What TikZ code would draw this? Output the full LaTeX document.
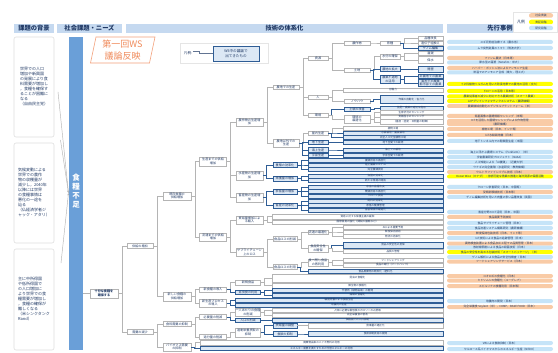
\documentclass[tikz,border=0pt]{standalone}
\usepackage{fontspec}
\setmainfont{Noto Sans CJK JP}
\usetikzlibrary{arrows.meta}
\definecolor{navy}{HTML}{1F3864}
\definecolor{hdrbg}{HTML}{C5D9F0}
\definecolor{barbl}{HTML}{6A9FD8}
\definecolor{wsfill}{HTML}{DCE8F5}
\definecolor{wsline}{HTML}{2F5D95}
\definecolor{gline}{HTML}{B4B4B4}
\definecolor{pblue}{HTML}{C6E4F8}
\definecolor{porange}{HTML}{F9CBA6}
\definecolor{pyellow}{HTML}{FFFF00}
\definecolor{ttlor}{HTML}{F08A5A}
\tikzset{
 tf/.style={font=\fontsize{3.1}{3.6}\selectfont},
 rf/.style={font=\fontsize{2.6}{3}\selectfont},
 wb/.style={tf, draw=gline, fill=white, text=navy, line width=0.45pt, inner sep=0.2pt, align=center},
 bb/.style={wb, draw=wsline, fill=wsfill, line width=0.6pt},
 wr/.style={wb, rf},
 br/.style={bb, rf},
 gl/.style={draw=gline, line width=0.45pt},
 bl/.style={draw=wsline, line width=0.6pt},
 hdr/.style={fill=hdrbg, text=navy, font=\fontsize{6.3}{7}\selectfont\bfseries, minimum height=9, inner sep=0},
 lbox/.style={draw=gray!25, line width=0.6pt, rounded corners=2pt, fill=white, text=navy, font=\fontsize{4}{5}\selectfont, align=left, inner sep=1pt, minimum width=40},
 pill/.style={font=\fontsize{2.8}{3.2}\selectfont, rounded corners=2pt, minimum width=106, minimum height=4, inner sep=0.2pt, text=navy, align=center},
}
\newcommand\nd[6]{\node[#2, minimum width=#3, minimum height=#5] (#1) at (#4) {#6};}
\newcommand\rw[7]{\node[#2, minimum width={#4-#3}, minimum height=#6] (#1) at ({(#3+#4)/2},#5) {#7};}
\newcommand\cg[2]{\draw[gl] (#1.east) -- ++(3.5,0) |- (#2.west);}
\newcommand\cb[2]{\draw[bl] (#1.east) -- ++(3.5,0) |- (#2.west);}
\newcommand\pl[4]{\node[pill, fill=#3] (#1) at (500,#2) {#4};}
\begin{document}
\begin{tikzpicture}[x=1pt,y=-1pt]
\path[use as bounding box] (0,0) rectangle (558,353);
\fill[white] (0,0) rectangle (558,353);
% headers
\node[hdr, minimum width=40] (hA) at (34,28.5) {課題の背景};
\node[hdr, minimum width=65] (hB) at (89.5,28.5) {社会課題・ニーズ};
\node[hdr, minimum width=317] (hC) at (284.5,28.5) {技術の体系化};
\node[hdr, minimum width=106] (hD) at (500,28.5) {先行事例};
% legend top right
\node[draw=gray!20, fill=white, line width=0.6pt, minimum width=44, minimum height=20] (lgR) at (535,22) {};
\node[text=navy, font=\fontsize{4}{5}\selectfont] (lgRt) at (521,22) {凡例};
\node[pill, fill=porange, minimum width=24, minimum height=4.5] (lgO) at (541,15.5) {社会実装};
\node[pill, fill=pyellow, minimum width=24, minimum height=4.5] (lgY) at (541,22) {実証段階};
\node[pill, fill=pblue, minimum width=24, minimum height=4.5] (lgB) at (541,28) {研究段階};
% left boxes
\node[lbox, minimum height=100] (l1) at (34,87) {世界での人口\\増加や新興国\\の発展により食\\料需要が増加し\\，食糧を確保す\\ることが困難に\\なる\\（自由民主党）};
\node[lbox, minimum height=100] (l2) at (34,193) {気候変動による\\世界での農作\\物の収穫量が\\減少し，2040年\\以降には世界\\の食糧事情は\\悪化の一途を\\辿る\\（仏経済学者ジ\\ャック・アタリ）};
\node[lbox, minimum height=101] (l3) at (34,299.5) {主に中所得国\\や低所得国で\\の人口増加に\\より世界での食\\糧需要が増加し\\，食糧の確保が\\難しくなる\\（米シンクタンク\\Rand）};
% bar
\node[fill=barbl, minimum width=14, minimum height=313, inner sep=0] (bar) at (76,193.5) {};
\node[text=white, font=\bfseries\fontsize{7.5}{9}\selectfont, align=center] (barT) at (76,191) {食\\糧\\不\\足};
\coordinate (s1) at (58,92);
\coordinate (s2) at (60.5,140);
\coordinate (s3) at (61,263);
\coordinate (tip) at (68.5,193);
\draw[gl, -{Stealth[length=2.5pt,width=2pt]}] (s1) -- (tip);
\draw[gl, -{Stealth[length=2.5pt,width=2pt]}] (s2) -- (tip);
\draw[gl, -{Stealth[length=2.5pt,width=2pt]}] (s3) -- (tip);
% title
\node[text=ttlor, font=\fontsize{9}{12.5}\selectfont, align=center] (ttl) at (122.5,50) {第一回WS\\議論反映};
\draw[draw=ttlor!80, line width=0.6pt] (90.5,63) -- (96,37) -- (155,37) -- (149.5,63) -- cycle;
% legend WS
\node[draw=gray!20, fill=white, line width=0.7pt, minimum width=88, minimum height=20] (lg) at (224,53) {};
\node[text=navy, font=\fontsize{3.6}{4}\selectfont, inner sep=0.5pt] (lgt) at (188,53.5) {凡例:};
\node[bb, font=\fontsize{3.6}{4.4}\selectfont, minimum width=46, minimum height=15] (lgb) at (236,53.5) {WS中の議論で\\出てきたもの};
\draw[draw=navy!70, line width=0.5pt] (lgt.north east) -- ++(6,0) |- (lgb.west);
% tree
\nd{rt}{wb,font=\bfseries\fontsize{3.1}{3.6}\selectfont}{28}{104,293.5}{9}{十分な食糧を\\確保する}
\draw[gl] (bar.east |- rt.west) -- (rt.west);
\nd{b1}{wb}{26}{140,246}{5}{供給の増加}
\nd{b2}{wb}{26}{140,332}{5}{需要の減少}
\nd{c1}{wb}{28}{177,196}{8.5}{既存食糧の\\供給増加}
\nd{c2}{wb}{28}{177,296.5}{8.5}{新しい食糧の\\供給増加}
\nd{c3}{wb}{28}{177,324}{5}{食料需要の抑制}
\nd{c4}{wb}{28}{177,347}{8.5}{バイオマス需要\\の抑制}
\nd{d1}{wb}{27}{213,161.5}{8.5}{生産までの供給\\増加}
\nd{d2}{wb}{27}{213,237}{8.5}{流通までの供給\\増加}
\nd{d3}{wb}{27}{213,289.5}{5}{新食糧の導入}
\nd{d4}{wb}{27}{213,303}{8.5}{新生産プロセス\\の導入}
\nd{d5}{wb}{27}{213,317}{5}{必要量の削減}
\nd{d6}{wb}{27}{213,337}{5}{過分量の削減}
\nd{e1}{wb}{27}{249.5,122}{8.5}{農作物の生産増\\加}
\nd{e2}{wb}{27}{249.5,175.5}{8.5}{水産物の生産増\\加}
\nd{e3}{wb}{27}{249.5,197.5}{8.5}{畜産物の生産増\\加}
\nd{e4}{wb}{27}{249.5,220}{8.5}{貿易量増加によ\\る輸入}
\nd{e5}{wb}{27}{249.5,252}{8.5}{サプライチェーン\\上のロス}
\nd{e6}{wb}{25}{248,282.5}{4.5}{新規食品}
\nd{e7}{bb}{25}{248,292.5}{4.5}{昆虫食の利用}
\nd{e8}{wb}{25}{248,312.5}{8}{一人あたりの食糧\\の削減}
\nd{e9}{bb}{25}{248,320.5}{4}{人口の削減}
\nd{e10}{wb}{25}{248,332.5}{8.5}{過剰栄養摂取の\\抑制}
\nd{f1}{wb}{26}{286,87}{4.5}{農地での生産}
\nd{f2}{wb}{26}{286,143}{8.5}{農地以外での\\生産}
\nd{f3}{bb}{24}{285,165}{5}{養殖の効率化}
\nd{f4}{bb}{24}{285,178.5}{5}{漁獲量の増加}
\nd{f5}{bb}{24}{285,191.5}{5}{家畜量の増加}
\nd{f6}{bb}{24}{285,205.5}{5}{畜産の効率化}
\nd{f7}{wb}{24}{285,239}{5}{食品ロスの削減}
\nd{f8}{wb}{24}{285,267}{5}{食品ロスの利用}
\nd{f9}{bb}{24}{285,325.5}{5}{摂取量の調整}
\nd{f10}{bb}{24}{285,334}{5}{食欲の抑制}
\nd{g1}{wb}{20}{318,58}{4.5}{資源}
\nd{g2}{wb}{20}{318,97}{4.5}{人}
\nd{g3}{wb}{20}{318,115}{4.5}{環境}
\nd{g4}{wb}{20}{318,133}{4.5}{屋内生産}
\nd{g5}{bb}{20}{318,142.5}{4.5}{地下生産}
\nd{g6}{bb}{20}{318,150}{4.5}{海上生産}
\nd{g7}{bb}{20}{318,155.5}{4.5}{宇宙生産}
\nd{g9}{wb}{20}{318,232}{4.5}{流通の最適化}
\nd{g10}{wb}{20}{318,248.5}{7.5}{食品安全性\\の確保}
\nd{g11}{wb}{20}{318,262.5}{7.5}{食べ残し食品\\の再利用}
\nd{h1}{wb}{26}{357,43}{4.5}{農作物}
\nd{h2}{wb}{26}{357,70}{4.5}{土地}
\nd{h3}{wb}{26}{357,101}{4.5}{ノウハウ}
\nd{h4}{bb}{26}{357,109.5}{4.5}{土壌の改善}
\nd{h5}{wb}{26}{357,119}{7.5}{環境の\\最適化}
\nd{i1}{wb}{20}{390,43}{4.5}{育種}
\nd{i2}{wb}{20}{390,56.5}{4.5}{水分の確保}
\nd{i3}{bb}{20}{390,69}{4.5}{農地の拡大}
\nd{i4}{bb}{20}{390,79.5}{7.5}{農業不適地\\の活用}
\nd{j1}{wb}{25}{430.5,38}{4.2}{品種改良}
\nd{j2}{wb}{25}{430.5,43}{4.2}{遺伝子組換え}
\nd{j3}{bb}{25}{430.5,48}{4.2}{ゲノム編集}
\nd{j4}{wb}{25}{430.5,53}{4.2}{灌漑}
\nd{j5}{wb}{25}{430.5,60}{7}{保水}
\nd{j6}{bb}{25}{430.5,69.5}{6}{開墾}
\nd{j7}{bb}{25}{430.5,76.5}{4}{非農地での農業}
\nd{j8}{bb}{25}{430.5,83}{7}{海水での農業\\都市部での農業}
% rows
\rw{r1}{wr}{343}{443}{90}{4}{労働力}
\rw{r2}{br}{380}{443}{99.5}{8}{作業の自動化・省力化}
\rw{k1}{br}{380}{443}{108}{4}{施肥・農薬の適切な施用}
\rw{k2}{wr}{380}{443}{112.5}{4}{生育状況のセンシング}
\rw{k3}{wr}{380}{443}{117}{4}{気象因子のセンシング}
\rw{k4}{wr}{380}{443}{122}{5}{（温度・湿度・日照量の制御）}
\rw{s1}{wr}{343}{443}{128.5}{4}{植物工場}
\rw{s2}{br}{343}{443}{133}{4}{水耕栽培・養液栽培}
\rw{s3}{br}{343}{443}{137.5}{4}{完全人工光型植物工場}
\rw{s4}{br}{343}{443}{142.5}{4}{地下空間での栽培}
\rw{s5}{br}{343}{443}{150}{4}{海上での栽培}
\rw{s6}{br}{343}{443}{155.5}{4}{宇宙空間での栽培}
\rw{t1}{br}{308}{443}{160.5}{4}{養殖技術の高度化}
\rw{t2}{br}{308}{443}{165}{4}{陸上養殖システム}
\rw{t3}{br}{308}{443}{169.5}{4}{完全養殖技術}
\rw{t4}{br}{308}{443}{176}{4}{漁獲の効率化}
\rw{t5}{br}{308}{443}{180.5}{4}{新たな漁場の開拓}
\rw{t6}{br}{308}{443}{187}{4}{家畜の品種改良}
\rw{t7}{br}{308}{443}{191.5}{4}{繁殖技術の高度化}
\rw{t8}{br}{308}{443}{196}{4}{クローン技術}
\rw{t9}{br}{308}{443}{201}{4}{飼料の効率化}
\rw{t10}{br}{308}{443}{205.5}{4}{家畜の健康管理}
\rw{t11}{br}{308}{443}{210}{4}{畜舎環境の最適化}
\rw{u1}{wr}{272}{443}{216.5}{4.5}{貿易に対する保護主義の緩和}
\rw{u2}{wr}{272}{443}{222}{4.5}{国際貿易の強化（関税の撤廃など）}
\rw{v1}{wr}{343}{443}{227.5}{4}{AIによる需要予測}
\rw{v2}{wr}{343}{443}{232}{4}{鮮度保持技術}
\rw{v3}{wr}{343}{443}{236.5}{4}{物流の効率化}
\rw{v4}{br}{343}{443}{245}{6}{食品の安全性の担保}
\rw{v5}{wr}{343}{443}{251.5}{4}{品質の管理}
\rw{v6}{wr}{343}{443}{260.5}{4}{フードシェアリング}
\rw{v7}{wr}{343}{443}{265}{4}{食品の寄付（フードバンク）}
\rw{v8}{br}{308}{443}{271.5}{4}{食品廃棄物の飼料化・肥料化}
\rw{w1}{wr}{272}{443}{278}{7.5}{昆虫の食糧化}
\rw{w2}{wr}{272}{443}{285.5}{4.5}{微生物の食糧化}
\rw{w3}{br}{272}{443}{290.5}{4}{代替肉（植物由来）の開発}
\rw{w4}{br}{272}{443}{295}{4}{藻類の食糧化}
\rw{w5}{br}{235}{443}{300}{4}{細胞培養による食糧生産}
\rw{w6}{br}{235}{443}{305}{4}{培養肉の生産}
\rw{x1}{wr}{272}{443}{310.5}{4}{人体に必要な最低限のカロリーのみ摂取}
\rw{x2}{wr}{272}{443}{315}{4}{完全栄養食の普及}
\rw{x3}{br}{272}{443}{320}{4}{価格面での人口抑制}
\rw{x4}{wr}{308}{443}{325.5}{4.5}{食事量の適正化}
\rw{x5}{br}{308}{443}{334}{4.5}{食欲抑制技術の開発}
\rw{y1}{wr}{200}{443}{342.5}{4.5}{廃棄物由来のバイオ燃料の利用}
\rw{y2}{br}{200}{443}{348.5}{4.5}{エネルギー需要を満たすための代替エネルギーの利用}
% connectors
\cg{rt}{b1}\cg{rt}{b2}
\cg{b1}{c1}\cg{b1}{c2}\cg{b2}{c3}\cg{b2}{c4}
\cg{c1}{d1}\cg{c1}{d2}\cg{c2}{d3}\cg{c2}{d4}\cg{c3}{d5}\cg{c3}{d6}
\cg{c4}{y1}\cb{c4}{y2}
\cg{d1}{e1}\cg{d1}{e2}\cg{d1}{e3}\cg{d2}{e4}\cg{d2}{e5}
\cg{d3}{e6}\cb{d3}{e7}\cb{d4}{w5}\cb{d4}{w6}
\cg{d5}{e8}\cb{d5}{e9}\cg{d6}{e10}
\cg{e1}{f1}\cg{e1}{f2}\cb{e2}{f3}\cb{e2}{f4}\cb{e3}{f5}\cb{e3}{f6}
\cg{e4}{u1}\cg{e4}{u2}\cg{e5}{f7}\cg{e5}{f8}
\cg{e6}{w1}\cg{e6}{w2}\cb{e7}{w3}\cb{e7}{w4}
\cg{e8}{x1}\cg{e8}{x2}\cb{e9}{x3}\cb{e10}{f9}\cb{e10}{f10}
\cg{f9}{x4}\cb{f10}{x5}
\cg{f1}{g1}\cg{f1}{g2}\cg{f1}{g3}
\cg{f2}{g4}\cb{f2}{g5}\cb{f2}{g6}\cb{f2}{g7}
\cb{f3}{t1}\cb{f3}{t2}\cb{f3}{t3}\cb{f4}{t4}\cb{f4}{t5}
\cb{f5}{t6}\cb{f5}{t7}\cb{f5}{t8}\cb{f6}{t9}\cb{f6}{t10}\cb{f6}{t11}
\cg{f7}{g9}\cg{f7}{g10}\cg{f8}{g11}\cb{f8}{v8}
\cg{g9}{v1}\cg{g9}{v2}\cg{g9}{v3}\cb{g10}{v4}\cg{g10}{v5}\cg{g11}{v6}\cg{g11}{v7}
\cg{g1}{h1}\cg{g1}{h2}\cg{g2}{r1}\cg{g2}{h3}\cb{g3}{h4}\cg{g3}{h5}
\cg{g4}{s1}\cb{g4}{s2}\cb{g4}{s3}\cb{g5}{s4}\cb{g6}{s5}\cb{g7}{s6}
\cg{h1}{i1}\cg{h2}{i2}\cb{h2}{i3}\cb{h2}{i4}\cb{h3}{r2}\cb{h4}{k1}
\cg{h5}{k2}\cg{h5}{k3}\cg{h5}{k4}
\cg{i1}{j1}\cg{i1}{j2}\cb{i1}{j3}\cg{i2}{j4}\cg{i2}{j5}\cb{i3}{j6}\cb{i4}{j7}\cb{i4}{j8}
% examples
\pl{p1}{42}{pblue}{スギ花粉症治療イネ（農水省）}
\pl{p2}{48}{pblue}{ムラ突然変異のトマト（筑波大学）}
\pl{p3}{58}{porange}{ファンム農法（日本等）}
\pl{p4}{62.5}{pblue}{節水型の灌漑（Netafim・米大）}
\pl{p5}{68}{porange}{ハーバー・ボッシュ法によるアンモニア生産}
\pl{p6}{72.5}{pblue}{常温でのアンモニア合成（東大，理工大）}
\pl{p7}{84}{pyellow}{イネ科植物ソルガムを用いた砂漠地帯での農地の活用（京大）}
\pl{p8}{91}{pyellow}{ドローンの活用（日本等）}
\pl{p9}{96.5}{pyellow}{農業従事者の減少に対応できる農業技術（スマート農業）}
\pl{p10}{101}{pyellow}{AIアグリインフォマティクスシステム（農研機構）}
\pl{p11}{106}{porange}{農業機械自動化のデジタルプラットフォーム（米）}
\pl{p12}{116}{porange}{衛星画像の圃場情報センシング（米等）}
\node[pill, fill=porange, minimum height=7] (p13) at (500,122.5) {ICTを活用した圃場センシングによる作物管理\\（農研機構）};
\pl{p14}{129}{porange}{植物工場（日本，インド等）}
\pl{p15}{135}{porange}{IoT水耕栽培機（日本）}
\pl{p16}{141}{pblue}{地下トンネル内での閉鎖型生産（米国）}
\pl{p17}{152}{pblue}{海上に浮かぶ農場システム（Forkfarm）（米）}
\pl{p18}{157}{pblue}{宇宙農業研究プロジェクト（NASA）}
\pl{p19}{162}{pblue}{人工知能による「AI養殖」（近畿大学）}
\pl{p20}{167}{pblue}{ウナギの完全養殖（水産研究・教育機構）}
\pl{p21}{172}{porange}{ウルトラファインバブル技術（日本）}
\pl{p22}{176.5}{pyellow}{Ocean Wise（カナダ）：持続可能な漁業の推進と海洋資源の保護活動}
\pl{p23}{187}{pblue}{クローン家畜研究（日本，中国等）}
\pl{p24}{192}{porange}{受精卵移植技術（日本等）}
\pl{p25}{197}{pblue}{ゲノム編集技術を用いた肉量の多い品種改良（英国）}
\pl{p26}{212}{pblue}{畜産分野のICT活用（日本，米国）}
\pl{p27}{217}{porange}{食品需要予測技術}
\pl{p28}{223}{pblue}{食品サプライチェーン管理（日本）}
\pl{p29}{228}{pblue}{食品流通システム構築研究（農研機構）}
\pl{p30}{233}{porange}{鮮度保持包装技術（日本，インド等）}
\pl{p31}{238}{pblue}{IoT技術による食品の追跡管理（日本）}
\pl{p32}{243.5}{porange}{異物検査装置による食品加工工程での品質管理（日本）}
\pl{p33}{247.5}{pblue}{放射線照射による食品の殺菌技術（日本）}
\pl{p34}{252}{pyellow}{食品の安全性を高める包装技術「スマートパッケージ」（米）}
\pl{p35}{257}{pblue}{ゲノム解析による食品の安全性検査（日本）}
\pl{p36}{261.5}{porange}{フードシェアリングサービス（日本）}
\pl{p37}{276}{porange}{コオロギの食糧化（日本）}
\pl{p38}{280.5}{porange}{ミドリムシの食糧化（ユーグレナ）}
\pl{p39}{286}{porange}{スピルリナの食糧利用（日本等）}
\pl{p40}{301}{pblue}{培養肉の開発（日本）}
\pl{p41}{307}{porange}{完全栄養食 Soylent（米），COMP，BASE FOOD（日本）}
\pl{p42}{343}{pblue}{VRによる食欲抑制（日本）}
\pl{p43}{349}{pblue}{セルロース系バイオマスからのエネルギー生産（NEDO）}
\end{tikzpicture}
\end{document}
